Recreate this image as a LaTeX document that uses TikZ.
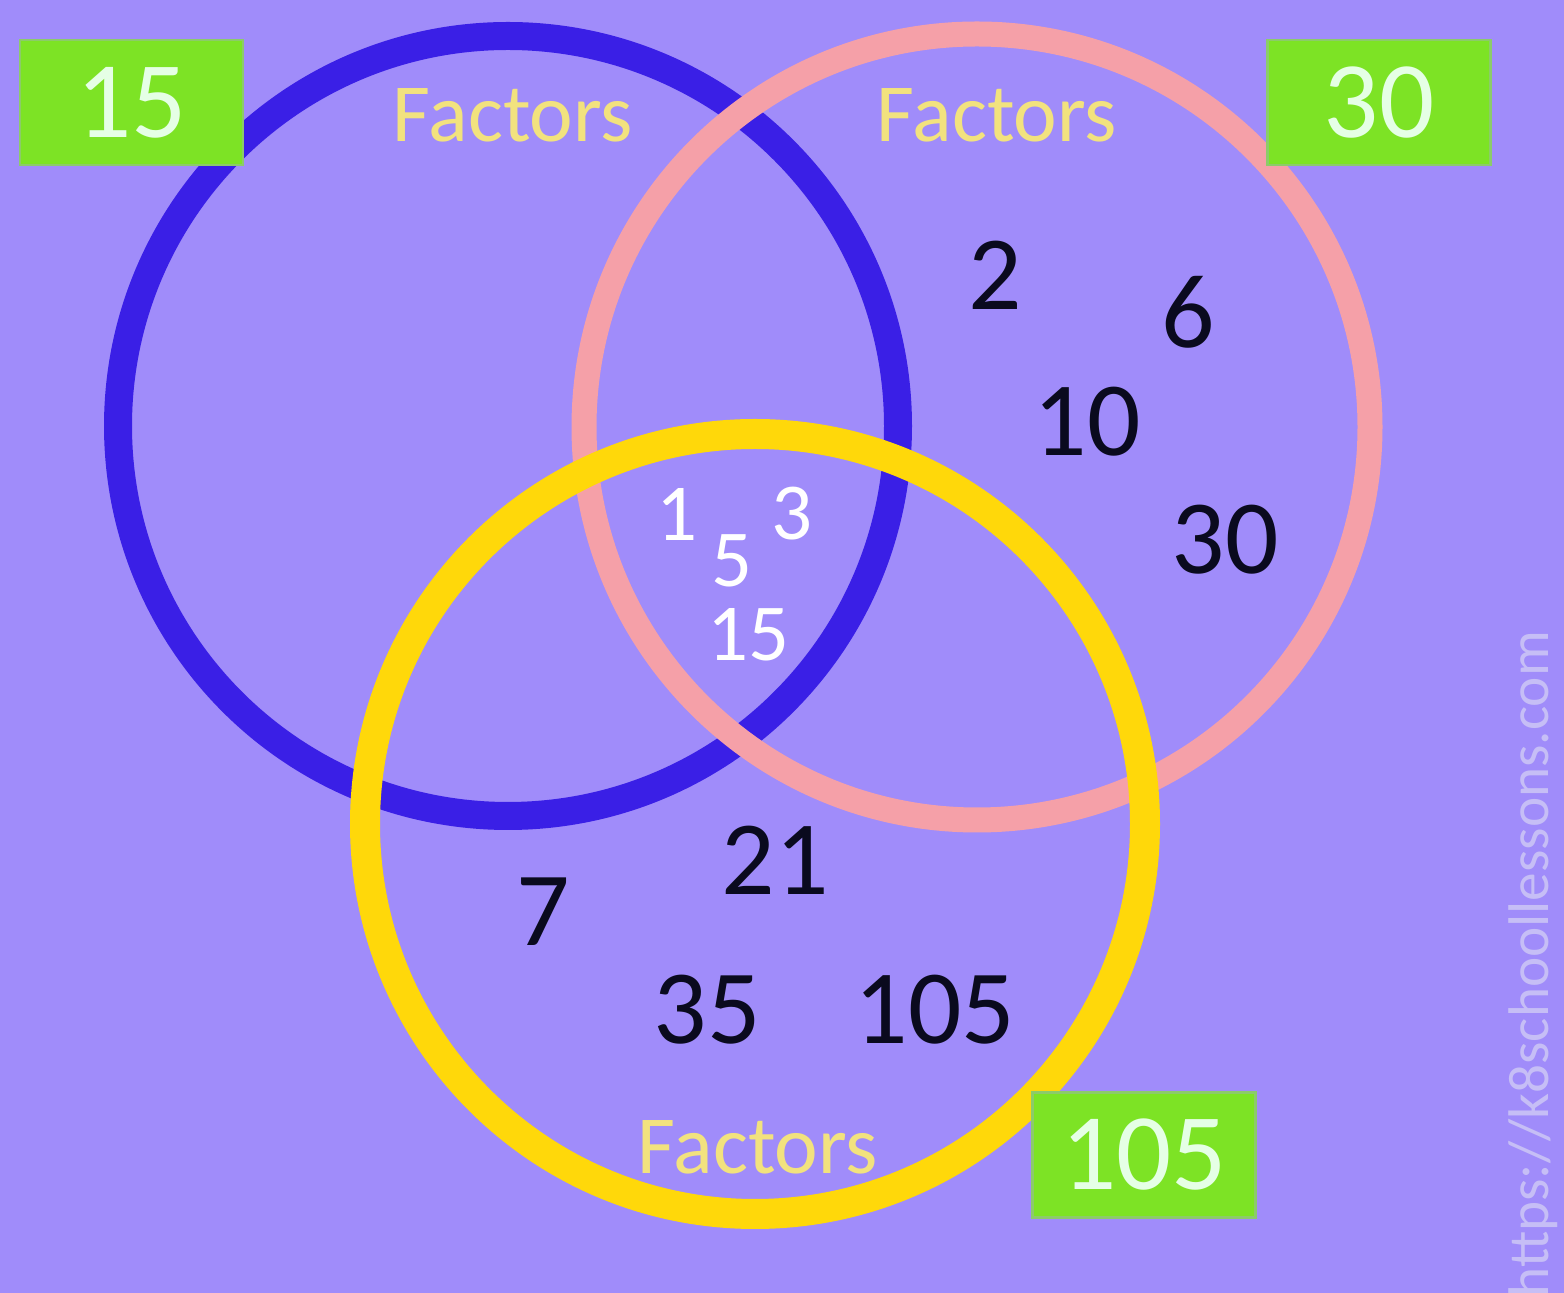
\documentclass[tikz,border=0pt]{standalone}
\usepackage{fontspec}
\setmainfont{Carlito}
\usepackage{tikz}
\definecolor{lilas}{HTML}{A08CFA}
\definecolor{anil}{HTML}{3A1FE6}
\definecolor{rosa}{HTML}{F5A0A8}
\definecolor{ouro}{HTML}{FFD80A}
\definecolor{verde}{HTML}{7DE325}
\definecolor{borda}{HTML}{8CCB6A}
\definecolor{creme}{HTML}{F2E27E}
\definecolor{marca}{HTML}{C6BEF6}
\definecolor{tinta}{HTML}{0A0A1E}

\begin{document}
\begin{tikzpicture}[x=1cm,y=1cm,
    caixa/.style={draw=borda, line width=0.8pt, fill=verde, text=white!90!green, minimum width=2.23cm, minimum height=1.25cm, inner sep=0pt, font=\fontsize{31}{36}\selectfont},
    titulo/.style={text=creme, inner sep=0pt, font=\fontsize{23.5}{28}\selectfont},
    num/.style={text=tinta, inner sep=0pt, font=\fontsize{30}{36}\selectfont},
    comum/.style={text=white, inner sep=0pt, font=\fontsize{23}{28}\selectfont}]
  \fill[lilas] (0,0) rectangle (15.64,12.93);
  \useasboundingbox (0,0) rectangle (15.64,12.93);
  % os tres aneis
  \draw[anil, line width=0.28cm] (5.08,8.67) circle (3.90);
  \draw[rosa, line width=0.25cm] (9.77,8.66) circle (3.93);
  \draw[ouro, line width=0.30cm] (7.55,4.69) circle (3.90);
  % etiquetas verdes
  \node[caixa] (c15) at (1.315,11.905) {15};
  \node[caixa] (c30) at (13.79,11.905) {30};
  \node[caixa] (c105) at (11.44,1.38) {105};
  \node[titulo] (t15) at (5.13,11.78) {Factors};
  \node[titulo] (t30) at (9.97,11.78) {Factors};
  \node[titulo] (t105) at (7.58,1.46) {Factors};
  % fatores comuns
  \node[comum] (f1) at (6.77,7.79) {1};
  \node[comum] (f3) at (7.92,7.79) {3};
  \node[comum] (f5) at (7.32,7.32) {5};
  \node[comum] (f15) at (7.48,6.58) {15};
  % demais fatores
  \node[num] (f2) at (9.95,10.18) {2};
  \node[num] (f6) at (11.88,9.81) {6};
  \node[num] (f10) at (10.87,8.71) {10};
  \node[num] (f30) at (12.25,7.53) {30};
  \node[num] (f21) at (7.75,4.33) {21};
  \node[num] (f7) at (5.43,3.81) {7};
  \node[num] (f35) at (7.07,2.83) {35};
  \node[num] (f105) at (9.35,2.83) {105};
  \node[text=marca, rotate=90, anchor=west, inner sep=0pt, font=\fontsize{16.3}{19}\selectfont] (site) at (15.33,-0.05) {https://k8schoollessons.com};
\end{tikzpicture}
\end{document}
